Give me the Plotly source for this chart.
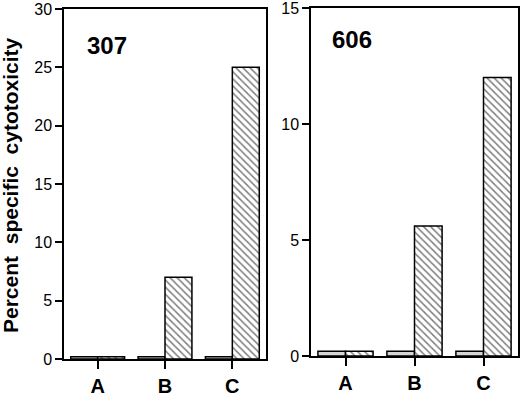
import plotly.graph_objects as go

categories = ["A", "B", "C"]
p307_control = [0.2, 0.2, 0.2]
p307_treated = [0.2, 7.0, 25.0]
p606_control = [0.2, 0.2, 0.2]
p606_treated = [0.2, 5.6, 12.0]
y307_ticks = [0, 5, 10, 15, 20, 25, 30]
y606_ticks = [0, 5, 10, 15]

FONT = "Liberation Sans, Arial, Helvetica, sans-serif"
W, H = 520, 396

fig = go.Figure()

def add_pair(ctrl, trt, xa, ya):
    fig.add_trace(go.Bar(x=categories, y=ctrl, xaxis=xa, yaxis=ya,
                         marker=dict(color="#d6d6d6", line=dict(color="black", width=1.5)),
                         showlegend=False, offsetgroup="c", hoverinfo="skip"))
    fig.add_trace(go.Bar(x=categories, y=trt, xaxis=xa, yaxis=ya,
                         marker=dict(color="white", line=dict(color="black", width=1.5),
                                     pattern=dict(shape="\\", fgcolor="black", bgcolor="white",
                                                  size=5, solidity=0.3)),
                         showlegend=False, offsetgroup="t", hoverinfo="skip"))

add_pair(p307_control, p307_treated, "x", "y")
add_pair(p606_control, p606_treated, "x2", "y2")

axis_common = dict(showline=True, linecolor="black", linewidth=1.5, mirror=True,
                   ticks="outside", tickcolor="black", tickwidth=1.5,
                   showgrid=False, zeroline=False, automargin=False,
                   ticklabeloverflow="allow")

def px_x(a, b):
    return [a / W, b / W]

def px_y(top, bottom):
    return [(H - bottom) / H, (H - top) / H]

fig.update_layout(
    width=W, height=H,
    margin=dict(l=0, r=0, t=0, b=0),
    paper_bgcolor="white", plot_bgcolor="white",
    barmode="group", bargap=0.2, bargroupgap=0,
    font=dict(family=FONT, color="black"),
    xaxis=dict(domain=px_x(64, 266), anchor="y", range=[-0.5, 2.5], ticklen=8,
               tickfont=dict(size=20, family=FONT, weight="bold"), **axis_common),
    yaxis=dict(domain=px_y(9, 359), anchor="x", range=[0, 30], tickvals=y307_ticks,
               ticklen=7, tickfont=dict(size=16, family=FONT), **axis_common),
    xaxis2=dict(domain=px_x(311, 518), anchor="y2", range=[-0.5, 2.5], ticklen=8,
                tickfont=dict(size=20, family=FONT, weight="bold"), **axis_common),
    yaxis2=dict(domain=px_y(8, 356), anchor="x2", range=[0, 15], tickvals=y606_ticks,
                ticklen=7, tickfont=dict(size=16, family=FONT), **axis_common),
)

fig.add_annotation(text="<b>Percent  specific  cytotoxicity</b>", textangle=-90,
                   x=11 / W, y=(H - 185) / H, xref="paper", yref="paper",
                   xanchor="center", yanchor="middle",
                   showarrow=False, font=dict(size=21, family=FONT))
fig.add_annotation(text="<b>307</b>", x=107 / W, y=(H - 45) / H, xref="paper", yref="paper",
                   xanchor="center", yanchor="middle",
                   showarrow=False, font=dict(size=24, family=FONT))
fig.add_annotation(text="<b>606</b>", x=352 / W, y=(H - 40) / H, xref="paper", yref="paper",
                   xanchor="center", yanchor="middle",
                   showarrow=False, font=dict(size=24, family=FONT))

fig.write_html("out.html", config={"displayModeBar": False},
               post_script="document.body.style.margin='0';")
